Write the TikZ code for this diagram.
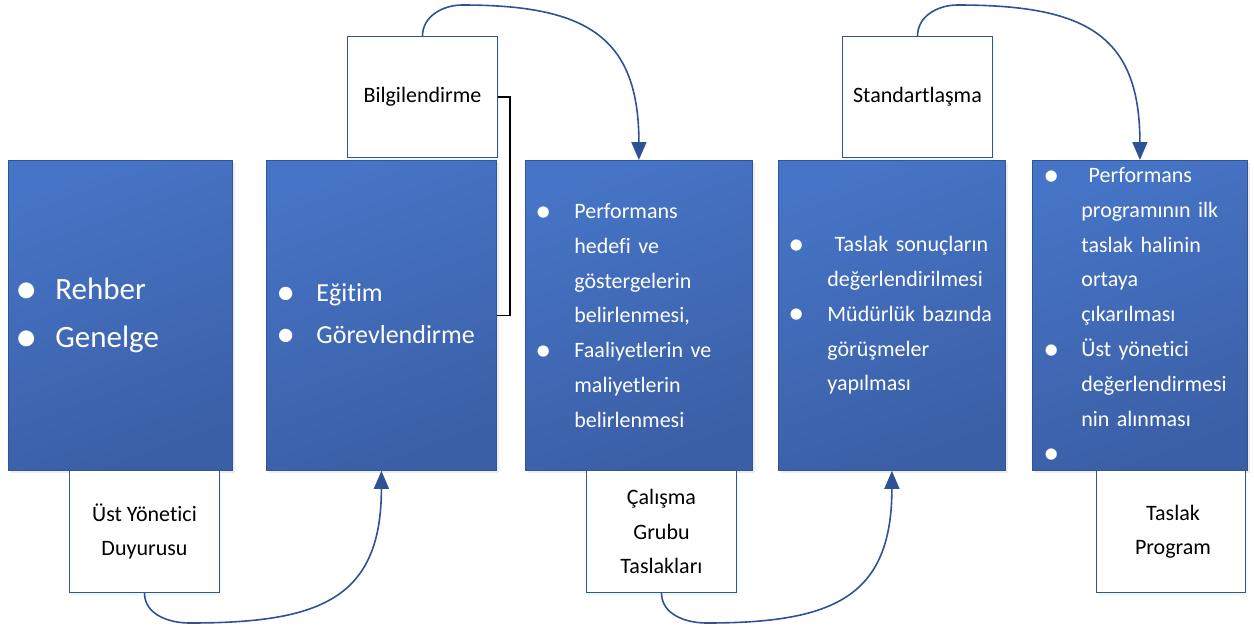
\documentclass[tikz,border=0pt]{standalone}
\usepackage{fontspec}
\setmainfont{Carlito}[Ligatures=NoCommon]
\usetikzlibrary{arrows.meta,shadows}
\definecolor{boxtop}{RGB}{70,116,198}
\definecolor{boxmid}{RGB}{62,100,174}
\definecolor{boxbot}{RGB}{59,95,166}
\definecolor{boxline}{RGB}{50,84,148}
\definecolor{noteline}{RGB}{47,85,151}
\definecolor{flowline}{RGB}{47,82,150}

\newlength{\bulw}
\setlength{\bulw}{39pt}
\newcommand{\dotmark}{\raisebox{-0.12em}{\scalebox{1.45}{\textbullet}}}
\newcommand{\bul}[1]{\makebox[\bulw][l]{\dotmark}\mbox{#1}}
\newcommand{\con}[1]{\makebox[\bulw][l]{}\mbox{#1}}

\tikzset{
  stepbox/.style={draw=boxline, line width=0.8pt, top color=boxtop, middle color=boxmid,
    bottom color=boxbot, shading angle=20, anchor=north west, inner xsep=10pt, inner ysep=2pt,
    minimum height=310pt, text=white, align=left, font=\fontsize{22}{34.8}\selectfont,
    drop shadow={opacity=0.15, shadow xshift=3pt, shadow yshift=-3pt}},
  notebox/.style={draw=noteline, line width=1pt, fill=white, anchor=north west,
    minimum width=150pt, minimum height=122pt, align=center,
    font=\fontsize{22}{34.5}\selectfont,
    drop shadow={fill=green!50!gray, opacity=0.08, shadow xshift=1pt, shadow yshift=-3pt}},
  flow/.style={draw=flowline, line width=1.6pt, -{Triangle[length=18pt,width=15pt]}}
}

\begin{document}
\begin{tikzpicture}[x=1pt,y=1pt]
  \useasboundingbox (0,0) rectangle (1254,-633);

  % blue step boxes
  \node[stepbox, text width=210pt, inner xsep=7pt, font=\fontsize{31}{48}\selectfont] (b1) at (8,-160)
    {\setlength{\bulw}{40pt}\bul{Rehber}\\\bul{Genelge}};
  \node[stepbox, text width=210pt, font=\fontsize{26}{42}\selectfont] (b2) at (266,-160)
    {\setlength{\bulw}{40pt}\bul{Eğitim}\\\bul{Görevlendirme}};
  \node[stepbox, text width=207pt] (b3) at (525,-160)
    {\bul{Performans}\\\con{hedefi ve}\\\con{göstergelerin}\\\con{belirlenmesi,}\\
     \bul{Faaliyetlerin ve}\\\con{maliyetlerin}\\\con{belirlenmesi}};
  \node[stepbox, text width=207pt] (b4) at (778,-160)
    {\bul{\ Taslak sonuçların}\\\con{değerlendirilmesi}\\\bul{Müdürlük bazında}\\
     \con{görüşmeler}\\\con{yapılması}};
  \node[stepbox, text width=193pt, inner xsep=11pt] (b5) at (1032,-160)
    {\setlength{\bulw}{38pt}\bul{\ Performans}\\\con{programının ilk}\\\con{taslak halinin}\\
     \con{ortaya}\\\con{çıkarılması}\\\bul{Üst yönetici}\\\con{değerlendirmesi}\\
     \con{nin alınması}\\\bul{}};

  % white note boxes
  \node[notebox] (w1) at (69,-470) {Üst Yönetici\\Duyurusu};
  \node[notebox, minimum height=121pt] (w2) at (347,-36) {Bilgilendirme};
  \node[notebox] (w3) at (586,-470) {Çalışma\\Grubu\\Taslakları};
  \node[notebox, minimum height=121pt] (w4) at (842,-36) {Standartlaşma};
  \node[notebox, minimum width=149pt] (w5) at (1096,-470) {\hspace*{4pt}Taslak\\\hspace*{4pt}Program};

  % connectors
  \draw[flow] (w1.south) to[out=-90,in=180] ++(45,-30) to[out=0,in=-90,looseness=1.35] (b2.south);
  \draw[flow] (w2.north) to[out=90,in=180] ++(40,31) to[out=0,in=90,looseness=1.35] (b3.north);
  \draw[flow] (w3.south) to[out=-90,in=180] ++(45,-30) to[out=0,in=-90,looseness=1.35] (b4.south);
  \draw[flow] (w4.north) to[out=90,in=180] ++(40,31) to[out=0,in=90,looseness=1.35] (b5.north);

  \draw[black, line width=1.3pt] (w2.east) -- ++(12,0) |- (b2.east);
\end{tikzpicture}
\end{document}
